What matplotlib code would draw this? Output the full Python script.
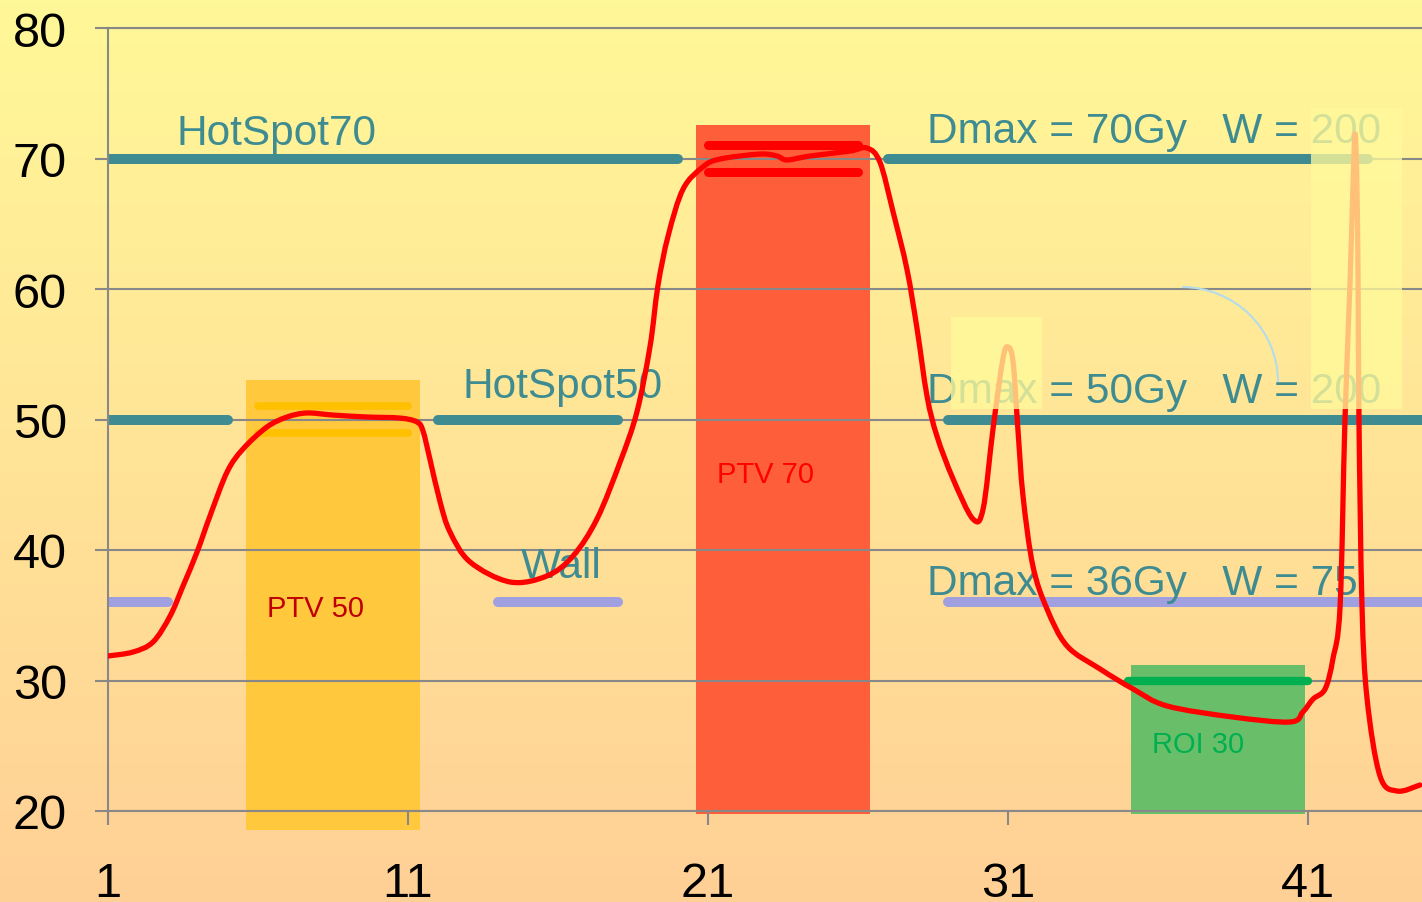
import numpy as np
import matplotlib
matplotlib.use("Agg")
import matplotlib.pyplot as plt
from matplotlib.patches import Rectangle, Arc, PathPatch
from matplotlib.path import Path

plt.rcParams["font.family"] = ["Liberation Sans", "DejaVu Sans"]

# Dose profile
dose_x = [1.00, 1.83, 2.50, 3.07, 3.50, 3.97, 4.40, 4.97, 5.50, 6.30, 6.97, 7.63,
          8.50, 9.63, 10.73, 11.30, 11.50, 11.73, 12.07, 12.40, 13.07, 14.40, 15.63,
          16.50, 17.30, 18.07, 18.63, 19.07, 19.33, 19.67, 20.17, 20.83, 21.40, 22.73,
          23.30, 23.63, 24.40, 25.73, 26.30, 26.73, 27.17, 27.63, 27.97, 28.30, 28.63,
          29.17, 29.83, 30.17, 30.50, 30.83, 31.00, 31.17, 31.33, 31.50, 31.83, 32.30,
          32.97, 34.07, 35.17, 36.30, 38.50, 40.40, 40.83, 41.17, 41.57, 41.83, 42.07,
          42.23, 42.40, 42.50, 42.57, 42.63, 42.67, 42.70, 42.80, 42.97, 43.40, 43.97,
          44.73]
dose_y = [31.88, 32.18, 32.95, 34.94, 37.24, 39.85, 42.61, 45.98, 47.74, 49.43, 50.19,
          50.50, 50.34, 50.19, 50.11, 49.81, 49.12, 46.97, 43.68, 41.38, 39.08, 37.55,
          38.01, 39.54, 42.38, 46.74, 50.57, 55.63, 60.23, 64.06, 67.66, 69.35, 69.96,
          70.34, 70.19, 69.89, 70.19, 70.57, 70.80, 69.73, 65.90, 61.53, 56.93, 51.80,
          48.74, 45.44, 42.38, 43.14, 49.27, 54.64, 55.56, 54.41, 49.27, 44.14, 38.77,
          35.48, 32.64, 30.88, 29.35, 28.05, 27.20, 26.82, 27.59, 28.58, 29.35, 31.65,
          35.71, 49.81, 60.46, 68.00, 71.88, 68.00, 60.46, 49.81, 35.71, 28.58, 22.68,
          21.53, 21.99]

# Structures
ptv_names = ["PTV 50", "PTV 70", "ROI 30"]
ptv_x0 = [5.6, 20.6, 35.1]
ptv_x1 = [11.4, 26.4, 40.9]
ptv_bottom = [18.55, 19.75, 19.75]
ptv_top = [53.0, 72.6, 31.2]

# Constraint segments
hot70_segments = [(1, 20.0), (27.0, 43.0)]
hot50_segments = [(1, 5.0), (12.0, 18.0), (29.0, 44.8)]
wall_segments = [(1, 3.0), (14.0, 18.0), (29.0, 44.8)]

teal = "#3E8C92"

fig = plt.figure(figsize=(14.22, 9.03), dpi=100)

# background gradient
bg = fig.add_axes([0, 0, 1, 1], zorder=-10)
top = np.array([255, 248, 152]) / 255
bot = np.array([255, 208, 150]) / 255
t = np.linspace(0, 1, 256)[:, None]
grad = (top * (1 - t) + bot * t)[:, None, :]
bg.imshow(grad, aspect="auto", extent=[0, 1, 0, 1])
bg.axis("off")

ax = fig.add_axes([108 / 1422, 91 / 903, 1314 / 1422, 783 / 903])
ax.set_facecolor("none")
ax.set_xlim(1, 44.8)
ax.set_ylim(20, 80)

bar_cols = ["#FFC83D", "#FF5E3A", "#69BE6A"]
for x0, x1, b, tp, c in zip(ptv_x0, ptv_x1, ptv_bottom, ptv_top, bar_cols):
    ax.add_patch(Rectangle((x0, b), x1 - x0, tp - b, color=c, zorder=1, clip_on=False, lw=0))

ax.grid(axis="y", color="#888888", lw=1.5)
ax.set_xticks([1, 11, 21, 31, 41])
ax.set_yticks([20, 30, 40, 50, 60, 70, 80])
ax.tick_params(axis="y", length=9.5, width=1.5, color="#888888", pad=20, labelsize=35)
ax.tick_params(axis="x", length=10, width=1.5, color="#888888", pad=26, labelsize=35)
for s in ["left", "bottom", "top"]:
    ax.spines[s].set_color("#888888")
    ax.spines[s].set_linewidth(1.5)
ax.spines["right"].set_visible(False)

kw = dict(solid_capstyle="round", zorder=2)
for a, b in hot70_segments:
    ax.plot([a, b], [70, 70], color=teal, lw=7.2, **kw)
for a, b in hot50_segments:
    ax.plot([a, b], [50, 50], color=teal, lw=7.2, **kw)
for a, b in wall_segments:
    ax.plot([a, b], [36, 36], color="#A0A0E0", lw=7.2, **kw)
ax.plot([6.0, 11.0], [51, 51], color="#FFC000", lw=5.5, **kw)
ax.plot([6.0, 11.0], [49, 49], color="#FFC000", lw=5.5, **kw)
ax.plot([21.0, 26.0], [71, 71], color="#FF0000", lw=6.5, **kw)
ax.plot([21.0, 26.0], [69, 69], color="#FF0000", lw=6.5, **kw)
ax.plot([35.0, 41.0], [30, 30], color="#00B050", lw=6.0, **kw)

tk = dict(color=teal, fontsize=30.5, va="baseline", ha="left", zorder=3)
ax.text(3.3, 71.1, "HotSpot70", **tk)
ax.text(12.83, 51.7, "HotSpot50", **tk)
ax.text(14.77, 37.93, "Wall", **tk)
ax.text(28.3, 71.26, "Dmax = 70Gy   W = 200", **tk)
ax.text(28.3, 51.34, "Dmax = 50Gy   W = 200", **tk)
ax.text(28.3, 36.6, "Dmax = 36Gy   W = 75", **tk)

lk = dict(fontsize=21, va="baseline", ha="left", zorder=3)
ax.text(6.3, 34.94, ptv_names[0], color="#C00000", **lk)
ax.text(21.3, 45.2, ptv_names[1], color="#FF0000", **lk)
ax.text(35.8, 24.52, ptv_names[2], color="#00B050", **lk)

# smoothed line through the read points (Bezier, like a spreadsheet "smooth line")
pts = np.column_stack([dose_x, dose_y])
verts = [pts[0]]
codes = [Path.MOVETO]
n = len(pts)
for i in range(n - 1):
    p0 = pts[max(i - 1, 0)]
    p1 = pts[i]
    p2 = pts[i + 1]
    p3 = pts[min(i + 2, n - 1)]
    verts += [p1 + (p2 - p0) / 6, p2 - (p3 - p1) / 6, p2]
    codes += [Path.CURVE4] * 3
ax.add_patch(PathPatch(Path(verts, codes), fill=False, edgecolor="#FF0000", lw=3.8,
                       capstyle="round", joinstyle="round", zorder=4))

ax.add_patch(Arc((36.8, 52.87), 6.4, 14.56, theta1=0, theta2=90,
                 color="#B4DCEA", lw=1.5, zorder=4))

# translucent highlight boxes
ax.add_patch(Rectangle((29.1, 50.8), 3.03, 7.05, color="#FFF99A", alpha=0.78, lw=0, zorder=5))
ax.add_patch(Rectangle((41.1, 50.8), 3.03, 23.1, color="#FFF99A", alpha=0.78, lw=0, zorder=5))

fig.savefig("out.png", dpi=100)
